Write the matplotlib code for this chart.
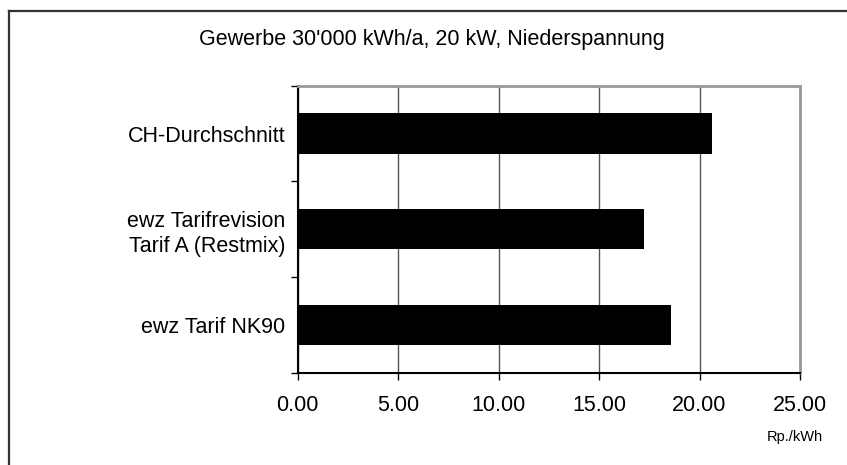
import numpy as np
from matplotlib import pyplot as plt
from matplotlib.lines import Line2D

plt.rcParams['font.family'] = ['Liberation Sans', 'DejaVu Sans']

categories = ["ewz Tarif NK90", "ewz Tarifrevision\nTarif A (Restmix)", "CH-Durchschnitt"]
values = [18.58, 17.24, 20.6]
x_ticks = [0, 5, 10, 15, 20, 25]
x_labels = ["0.00", "5.00", "10.00", "15.00", "20.00", "25.00"]

fig = plt.figure(figsize=(8.47, 4.65), dpi=100)
ax = fig.add_axes([0.3515, 0.1985, 0.593, 0.6172])

y = np.arange(len(categories))
ax.barh(y, values, height=0.42, color='black', zorder=3)

ax.set_xlim(0, 25)
ax.set_ylim(-0.5, 2.5)
ax.set_xticks(x_ticks, x_labels)
ax.xaxis.grid(True, color='#555555', linewidth=1, zorder=0)

# tick marks between categories, labels at category centres
ax.set_yticks(np.arange(-0.5, 3, 1))
ax.set_yticklabels([])
ax.set_yticks(y, minor=True)
ax.set_yticklabels(categories, minor=True, ha='right', fontsize=15.5, linespacing=1.3)
ax.tick_params(axis='y', which='minor', length=0, pad=9)
ax.tick_params(axis='y', which='major', length=5, width=1, direction='out')
ax.tick_params(axis='x', length=5, width=1, direction='out', labelsize=15.5, pad=11)

ax.spines['left'].set_linewidth(1.5)
ax.spines['bottom'].set_linewidth(1.5)
for s in ['top', 'right']:
    ax.spines[s].set_color('#999999')
    ax.spines[s].set_linewidth(2)

fig.text(0.5095, 0.916, "Gewerbe 30'000 kWh/a, 20 kW, Niederspannung",
         ha='center', va='center', fontsize=15.5)
fig.text(0.9386, 0.06, "Rp./kWh", ha='center', va='center', fontsize=10.5)

# outer frame (left and top edges only visible)
fig.add_artist(Line2D([0.0103, 0.0103], [0, 0.976], color='#333333', linewidth=1.6))
fig.add_artist(Line2D([0.0103, 1], [0.976, 0.976], color='#333333', linewidth=1.6))

fig.savefig('out.png', dpi=100)
